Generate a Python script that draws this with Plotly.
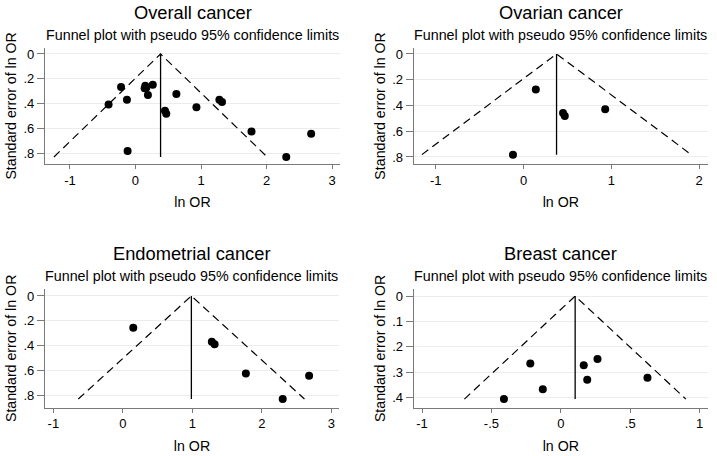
import plotly.graph_objects as go

# ln OR and standard error of ln OR
ovarian_lnor = [0.14, 0.45, 0.47, 0.93, -0.12]
ovarian_se = [0.277, 0.458, 0.482, 0.430, 0.782]

endometrial_lnor = [0.15, 1.28, 1.32, 1.77, 2.30, 2.68]
endometrial_se = [0.257, 0.368, 0.388, 0.625, 0.830, 0.643]

breast_lnor = [-0.41, -0.22, -0.13, 0.165, 0.19, 0.264, 0.624]
breast_se = [0.407, 0.266, 0.368, 0.273, 0.331, 0.249, 0.323]

# overall cancer pools every study
overall_lnor = ovarian_lnor + endometrial_lnor + breast_lnor
overall_se = ovarian_se + endometrial_se + breast_se

# pooled (fixed effect) ln OR, the funnel centre
pooled = {'overall': 0.383, 'ovarian': 0.376, 'endometrial': 0.986, 'breast': 0.103}

titles = ['Overall cancer', 'Ovarian cancer', 'Endometrial cancer', 'Breast cancer']

se_ticks_a = [0, 0.2, 0.4, 0.6, 0.8]
se_labels_a = ['0', '.2', '.4', '.6', '.8']
se_ticks_b = [0, 0.1, 0.2, 0.3, 0.4]
se_labels_b = ['0', '.1', '.2', '.3', '.4']
or_ticks_a = [-1, 0, 1, 2, 3]
or_ticks_b = [-1, 0, 1, 2]
or_ticks_c = [-1, -0.5, 0, 0.5, 1]
or_labels_c = ['-1', '-.5', '0', '.5', '1']

W, H = 717, 456
FONT = 'Liberation Sans, Arial, sans-serif'

panels = [
    dict(key='overall', x=overall_lnor, y=overall_se, px=(45, 340), py=(47.5, 164.3),
         xr=[-1.38, 3.12], yr=[0.889, -0.052], xt=or_ticks_a, xl=None, yt=se_ticks_a, yl=se_labels_a),
    dict(key='ovarian', x=ovarian_lnor, y=ovarian_se, px=(413.7, 708), py=(47.5, 164.3),
         xr=[-1.25, 2.10], yr=[0.857, -0.05], xt=or_ticks_b, xl=None, yt=se_ticks_a, yl=se_labels_a),
    dict(key='endometrial', x=endometrial_lnor, y=endometrial_se, px=(45, 339), py=(289, 407.7),
         xr=[-1.12, 3.11], yr=[0.90, -0.056], xt=or_ticks_a, xl=None, yt=se_ticks_a, yl=se_labels_a),
    dict(key='breast', x=breast_lnor, y=breast_se, px=(413.7, 708), py=(289, 407.7),
         xr=[-1.06, 1.06], yr=[0.441, -0.028], xt=or_ticks_c, xl=or_labels_c, yt=se_ticks_b, yl=se_labels_b),
]

fig = go.Figure()
annotations = []

for i, p in enumerate(panels):
    n = '' if i == 0 else str(i + 1)
    xa, ya = 'x' + n, 'y' + n
    c = pooled[p['key']]
    smax = max(p['y'])
    half = 1.96 * smax

    # pseudo 95% confidence limits
    fig.add_trace(go.Scatter(
        x=[c - half, c, c + half], y=[smax, 0, smax], xaxis=xa, yaxis=ya,
        mode='lines', line=dict(color='black', width=1.2, dash='8px,5px'),
        hoverinfo='skip', showlegend=False))
    # pooled estimate
    fig.add_trace(go.Scatter(
        x=[c, c], y=[0, smax], xaxis=xa, yaxis=ya,
        mode='lines', line=dict(color='black', width=1.3),
        hoverinfo='skip', showlegend=False))
    # studies
    fig.add_trace(go.Scatter(
        x=p['x'], y=p['y'], xaxis=xa, yaxis=ya,
        mode='markers', marker=dict(color='black', size=8),
        showlegend=False))

    x0, x1 = p['px']
    y0, y1 = p['py']
    axis_common = dict(
        showline=True, linecolor='#7a7a7a', linewidth=1.2,
        ticks='outside', tickcolor='#7a7a7a', tickwidth=1,
        tickfont=dict(family=FONT, size=13, color='black'),
        zeroline=False, automargin=False,
    )
    fig.layout['xaxis' + n] = dict(
        axis_common, domain=[x0 / W, x1 / W], anchor=ya, range=p['xr'],
        ticklen=4, tickmode='array', tickvals=p['xt'],
        ticktext=p['xl'] if p['xl'] else [str(v) for v in p['xt']],
        showgrid=False,
        title=dict(text='ln OR', font=dict(family=FONT, size=14.2, color='black'), standoff=10),
    )
    fig.layout['yaxis' + n] = dict(
        axis_common, domain=[1 - y1 / H, 1 - y0 / H], anchor=xa, range=p['yr'],
        ticklen=7, tickmode='array', tickvals=p['yt'], ticktext=p['yl'],
        showgrid=True, gridcolor='#ececec', gridwidth=1,
        title=dict(text='Standard error of ln OR', font=dict(family=FONT, size=14.2, color='black'), standoff=3),
    )

    xc = (x0 + x1) / 2 / W
    annotations.append(dict(
        text=titles[i], x=xc, y=1 - (y0 - 35.2) / H, xref='paper', yref='paper',
        xanchor='center', yanchor='middle', showarrow=False,
        font=dict(family=FONT, size=18.3, color='black')))
    annotations.append(dict(
        text='Funnel plot with pseudo 95% confidence limits', x=xc, y=1 - (y0 - 13) / H,
        xref='paper', yref='paper', xanchor='center', yanchor='middle', showarrow=False,
        font=dict(family=FONT, size=14.3, color='black')))

fig.update_layout(
    width=W, height=H,
    margin=dict(l=0, r=0, t=0, b=0),
    paper_bgcolor='white', plot_bgcolor='white',
    annotations=annotations,
)

fig.write_html('out.html', config={'displayModeBar': False},
               post_script="document.body.style.margin='0';")
